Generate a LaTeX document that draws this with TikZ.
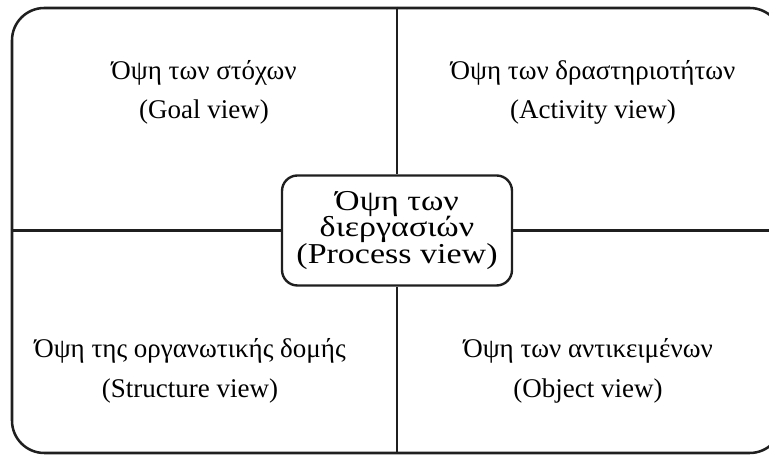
\documentclass[tikz,border=0pt]{standalone}
\usepackage{fontspec}
\setmainfont{Liberation Serif}
\newfontfamily\processfont{Liberation Serif}[FakeStretch=1.18]
\usetikzlibrary{positioning,calc}

% let the stacked lines in the middle box sit closer than their glyphs allow
\newcommand{\tightlines}{\lineskiplimit=-100pt\relax}

\begin{document}
\begin{tikzpicture}[remember picture]
    \tikzstyle{edge}  = [line width=1.7pt,draw=black!88]
    \tikzstyle{frame}=[
      rectangle,
      rounded corners=23pt,
      draw=black!88,
      line width=1.8pt,
      minimum width=19.25cm,
      minimum height=11.125cm,
    ]
    \tikzstyle{view}=[
      align=center,
      font=\fontsize{19.2}{27.8}\selectfont,
    ]
    \tikzstyle{centerview}=[
      view,
      rectangle,
      rounded corners=11pt,
      draw=black!88,
      line width=1.7pt,
      fill=white,
      minimum width=5.75cm,
      minimum height=2.75cm,
      inner sep=0pt,
      font=\processfont\fontsize{20.5}{19}\selectfont\tightlines,
    ]

    \useasboundingbox (0,0) rectangle (19.225,11.375);
    \clip (0,0) rectangle (19.225,11.375);

    \coordinate (midAnchor) at (9.925,5.6125);

    % outer frame and the process view in the middle
    {
      \node[frame] (frame) at (midAnchor) {};
      \node[centerview] (process) at (midAnchor) {Όψη των\\διεργασιών\\(Process view)};

      \draw[edge] (frame.north)--(process.north);
      \draw[edge] (process.south)--(frame.south);
      \draw[edge] (frame.west)--(process.west);
      \draw[edge] (process.east)--(frame.east);
    }

    % the four quadrants
    {
      \node[view] (goal) at ([xshift=-4.825cm, yshift=3.46cm] midAnchor) {Όψη των στόχων\\(Goal view)};
      \node[view] (activity) at ([xshift=4.9cm, yshift=3.46cm] midAnchor) {Όψη των δραστηριοτήτων\\(Activity view)};
      \node[view] (structure) at ([xshift=-5.175cm, yshift=-3.51cm] midAnchor) {Όψη της οργανωτικής δομής\\(Structure view)};
      \node[view] (object) at ([xshift=4.775cm, yshift=-3.51cm] midAnchor) {Όψη των αντικειμένων\\(Object view)};
    }
  \end{tikzpicture}
\end{document}
